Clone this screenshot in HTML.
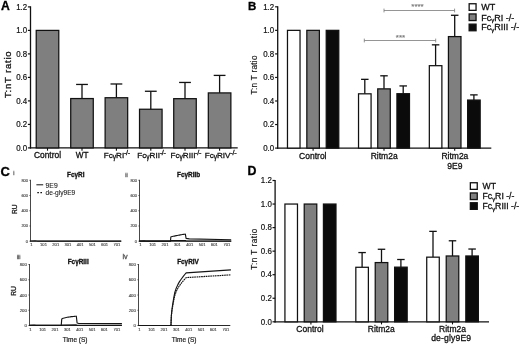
<!DOCTYPE html>
<html><head><meta charset="utf-8"><title>Figure</title>
<style>
html,body{margin:0;padding:0;background:#fff;}
body{width:520px;height:345px;overflow:hidden;font-family:"Liberation Sans",sans-serif;}
svg{display:block;will-change:transform;filter:grayscale(1);}
svg text{font-family:"Liberation Sans",sans-serif;}
</style></head><body>
<svg width="520" height="345" viewBox="0 0 520 345" >
<rect width="520" height="345" fill="#fff"/>
<text x="1" y="9.6" font-size="12.2" text-anchor="start" font-weight="bold" fill="#000" stroke="#000" stroke-width="0.3" >A</text>
<line x1="30.5" y1="6.300000000000001" x2="30.5" y2="148.5" stroke="#111" stroke-width="1.3" />
<line x1="27.9" y1="147.9" x2="30.5" y2="147.9" stroke="#111" stroke-width="1.2" />
<text x="27.2" y="150.60" font-size="9.0" text-anchor="end" font-weight="normal" fill="#111" stroke="#111" stroke-width="0.2" textLength="11.0" lengthAdjust="spacingAndGlyphs">0.0</text>
<line x1="27.9" y1="124.4" x2="30.5" y2="124.4" stroke="#111" stroke-width="1.2" />
<text x="27.2" y="127.10" font-size="9.0" text-anchor="end" font-weight="normal" fill="#111" stroke="#111" stroke-width="0.2" textLength="11.0" lengthAdjust="spacingAndGlyphs">0.2</text>
<line x1="27.9" y1="100.9" x2="30.5" y2="100.9" stroke="#111" stroke-width="1.2" />
<text x="27.2" y="103.60" font-size="9.0" text-anchor="end" font-weight="normal" fill="#111" stroke="#111" stroke-width="0.2" textLength="11.0" lengthAdjust="spacingAndGlyphs">0.4</text>
<line x1="27.9" y1="77.4" x2="30.5" y2="77.4" stroke="#111" stroke-width="1.2" />
<text x="27.2" y="80.10" font-size="9.0" text-anchor="end" font-weight="normal" fill="#111" stroke="#111" stroke-width="0.2" textLength="11.0" lengthAdjust="spacingAndGlyphs">0.6</text>
<line x1="27.9" y1="53.900000000000006" x2="30.5" y2="53.900000000000006" stroke="#111" stroke-width="1.2" />
<text x="27.2" y="56.60" font-size="9.0" text-anchor="end" font-weight="normal" fill="#111" stroke="#111" stroke-width="0.2" textLength="11.0" lengthAdjust="spacingAndGlyphs">0.8</text>
<line x1="27.9" y1="30.400000000000006" x2="30.5" y2="30.400000000000006" stroke="#111" stroke-width="1.2" />
<text x="27.2" y="33.10" font-size="9.0" text-anchor="end" font-weight="normal" fill="#111" stroke="#111" stroke-width="0.2" textLength="11.0" lengthAdjust="spacingAndGlyphs">1.0</text>
<line x1="27.9" y1="6.900000000000006" x2="30.5" y2="6.900000000000006" stroke="#111" stroke-width="1.2" />
<text x="27.2" y="9.60" font-size="9.0" text-anchor="end" font-weight="normal" fill="#111" stroke="#111" stroke-width="0.2" textLength="11.0" lengthAdjust="spacingAndGlyphs">1.2</text>
<line x1="29.9" y1="147.9" x2="237.7" y2="147.9" stroke="#111" stroke-width="1.35" />
<line x1="47.5" y1="147.9" x2="47.5" y2="150.70000000000002" stroke="#111" stroke-width="1.1" />
<line x1="82" y1="147.9" x2="82" y2="150.70000000000002" stroke="#111" stroke-width="1.1" />
<line x1="116.4" y1="147.9" x2="116.4" y2="150.70000000000002" stroke="#111" stroke-width="1.1" />
<line x1="150.8" y1="147.9" x2="150.8" y2="150.70000000000002" stroke="#111" stroke-width="1.1" />
<line x1="185.0" y1="147.9" x2="185.0" y2="150.70000000000002" stroke="#111" stroke-width="1.1" />
<line x1="219.6" y1="147.9" x2="219.6" y2="150.70000000000002" stroke="#111" stroke-width="1.1" />
<text transform="translate(10.5,74.3) rotate(-90)" font-size="9.6" text-anchor="middle" fill="#111" stroke="#111" stroke-width="0.3" letter-spacing="0.75">T:nT ratio</text>
<rect x="36.23" y="30.40" width="22.55" height="117.50" fill="#7f7f7f" stroke="#111" stroke-width="1.25"/>
<line x1="82" y1="84.45" x2="82" y2="98.55000000000001" stroke="#111" stroke-width="1.3" />
<line x1="76.1" y1="84.45" x2="87.9" y2="84.45" stroke="#111" stroke-width="1.3" />
<rect x="70.72" y="98.55" width="22.55" height="49.35" fill="#7f7f7f" stroke="#111" stroke-width="1.25"/>
<line x1="116.4" y1="83.97999999999999" x2="116.4" y2="97.7275" stroke="#111" stroke-width="1.3" />
<line x1="110.5" y1="83.97999999999999" x2="122.30000000000001" y2="83.97999999999999" stroke="#111" stroke-width="1.3" />
<rect x="105.12" y="97.73" width="22.55" height="50.17" fill="#7f7f7f" stroke="#111" stroke-width="1.25"/>
<line x1="150.8" y1="91.265" x2="150.8" y2="109.2425" stroke="#111" stroke-width="1.3" />
<line x1="144.9" y1="91.265" x2="156.70000000000002" y2="91.265" stroke="#111" stroke-width="1.3" />
<rect x="139.53" y="109.24" width="22.55" height="38.66" fill="#7f7f7f" stroke="#111" stroke-width="1.25"/>
<line x1="185.0" y1="82.4525" x2="185.0" y2="98.6675" stroke="#111" stroke-width="1.3" />
<line x1="179.1" y1="82.4525" x2="190.9" y2="82.4525" stroke="#111" stroke-width="1.3" />
<rect x="173.72" y="98.67" width="22.55" height="49.23" fill="#7f7f7f" stroke="#111" stroke-width="1.25"/>
<line x1="219.6" y1="75.4025" x2="219.6" y2="92.91" stroke="#111" stroke-width="1.3" />
<line x1="213.7" y1="75.4025" x2="225.5" y2="75.4025" stroke="#111" stroke-width="1.3" />
<rect x="208.32" y="92.91" width="22.55" height="54.99" fill="#7f7f7f" stroke="#111" stroke-width="1.25"/>
<text x="47.5" y="157.7" font-size="8.4" text-anchor="middle" font-weight="normal" fill="#111" stroke="#111" stroke-width="0.3" >Control</text>
<text x="82.1" y="157.7" font-size="8.2" text-anchor="middle" font-weight="normal" fill="#111" stroke="#111" stroke-width="0.3" >WT</text>
<text x="103.8" y="157.5" font-size="8.1" text-anchor="start" font-weight="normal" fill="#111" stroke="#111" stroke-width="0.3" >Fc<tspan font-size="6.64" dy="1.5">γ</tspan><tspan dy="-1.5">RI</tspan><tspan font-size="7.13" dy="-2.7" dx="-0.3" letter-spacing="-0.2">-/-</tspan></text>
<text x="137.3" y="157.5" font-size="8.1" text-anchor="start" font-weight="normal" fill="#111" stroke="#111" stroke-width="0.3" >Fc<tspan font-size="6.64" dy="1.5">γ</tspan><tspan dy="-1.5">RII</tspan><tspan font-size="7.13" dy="-2.7" dx="-0.3" letter-spacing="-0.2">-/-</tspan></text>
<text x="170.5" y="157.5" font-size="8.1" text-anchor="start" font-weight="normal" fill="#111" stroke="#111" stroke-width="0.3" >Fc<tspan font-size="6.64" dy="1.5">γ</tspan><tspan dy="-1.5">RIII</tspan><tspan font-size="7.13" dy="-2.7" dx="-0.3" letter-spacing="-0.2">-/-</tspan></text>
<text x="204.7" y="157.5" font-size="8.1" text-anchor="start" font-weight="normal" fill="#111" stroke="#111" stroke-width="0.3" >Fc<tspan font-size="6.64" dy="1.5">γ</tspan><tspan dy="-1.5">RIV</tspan><tspan font-size="7.13" dy="-2.7" dx="-0.3" letter-spacing="-0.2">-/-</tspan></text>
<text x="247.9" y="9.5" font-size="11.5" text-anchor="start" font-weight="bold" fill="#000" stroke="#000" stroke-width="0.3" >B</text>
<line x1="277.7" y1="6.2" x2="277.7" y2="148.7" stroke="#111" stroke-width="1.3" />
<line x1="275.09999999999997" y1="148.1" x2="277.7" y2="148.1" stroke="#111" stroke-width="1.2" />
<text x="274.2" y="150.80" font-size="9.0" text-anchor="end" font-weight="normal" fill="#111" stroke="#111" stroke-width="0.2" textLength="11.0" lengthAdjust="spacingAndGlyphs">0.0</text>
<line x1="275.09999999999997" y1="124.55" x2="277.7" y2="124.55" stroke="#111" stroke-width="1.2" />
<text x="274.2" y="127.25" font-size="9.0" text-anchor="end" font-weight="normal" fill="#111" stroke="#111" stroke-width="0.2" textLength="11.0" lengthAdjust="spacingAndGlyphs">0.2</text>
<line x1="275.09999999999997" y1="101.0" x2="277.7" y2="101.0" stroke="#111" stroke-width="1.2" />
<text x="274.2" y="103.70" font-size="9.0" text-anchor="end" font-weight="normal" fill="#111" stroke="#111" stroke-width="0.2" textLength="11.0" lengthAdjust="spacingAndGlyphs">0.4</text>
<line x1="275.09999999999997" y1="77.45" x2="277.7" y2="77.45" stroke="#111" stroke-width="1.2" />
<text x="274.2" y="80.15" font-size="9.0" text-anchor="end" font-weight="normal" fill="#111" stroke="#111" stroke-width="0.2" textLength="11.0" lengthAdjust="spacingAndGlyphs">0.6</text>
<line x1="275.09999999999997" y1="53.900000000000006" x2="277.7" y2="53.900000000000006" stroke="#111" stroke-width="1.2" />
<text x="274.2" y="56.60" font-size="9.0" text-anchor="end" font-weight="normal" fill="#111" stroke="#111" stroke-width="0.2" textLength="11.0" lengthAdjust="spacingAndGlyphs">0.8</text>
<line x1="275.09999999999997" y1="30.35000000000001" x2="277.7" y2="30.35000000000001" stroke="#111" stroke-width="1.2" />
<text x="274.2" y="33.05" font-size="9.0" text-anchor="end" font-weight="normal" fill="#111" stroke="#111" stroke-width="0.2" textLength="11.0" lengthAdjust="spacingAndGlyphs">1.0</text>
<line x1="275.09999999999997" y1="6.800000000000011" x2="277.7" y2="6.800000000000011" stroke="#111" stroke-width="1.2" />
<text x="274.2" y="9.50" font-size="9.0" text-anchor="end" font-weight="normal" fill="#111" stroke="#111" stroke-width="0.2" textLength="11.0" lengthAdjust="spacingAndGlyphs">1.2</text>
<line x1="277.1" y1="148.1" x2="491.3" y2="148.1" stroke="#111" stroke-width="1.3" />
<line x1="313.1" y1="148.1" x2="313.1" y2="150.7" stroke="#111" stroke-width="1.1" />
<line x1="384.0" y1="148.1" x2="384.0" y2="150.7" stroke="#111" stroke-width="1.1" />
<line x1="454.7" y1="148.1" x2="454.7" y2="150.7" stroke="#111" stroke-width="1.1" />
<text transform="translate(257.0,74.8) rotate(-90)" font-size="8.2" text-anchor="middle" fill="#111" stroke="#111" stroke-width="0.15" letter-spacing="0.28">T:n T ratio</text>
<rect x="287.48" y="30.35" width="12.55" height="117.75" fill="#fff" stroke="#111" stroke-width="1.25"/>
<rect x="306.83" y="30.35" width="12.55" height="117.75" fill="#7f7f7f" stroke="#111" stroke-width="1.25"/>
<rect x="326.23" y="30.35" width="12.55" height="117.75" fill="#0b0b0b" stroke="#111" stroke-width="1.25"/>
<line x1="364.8" y1="79.334" x2="364.8" y2="93.81725" stroke="#111" stroke-width="1.3" />
<line x1="361.05" y1="79.334" x2="368.55" y2="79.334" stroke="#111" stroke-width="1.3" />
<rect x="358.53" y="93.82" width="12.55" height="54.28" fill="#fff" stroke="#111" stroke-width="1.25"/>
<line x1="384.0" y1="75.8015" x2="384.0" y2="88.87174999999999" stroke="#111" stroke-width="1.3" />
<line x1="380.25" y1="75.8015" x2="387.75" y2="75.8015" stroke="#111" stroke-width="1.3" />
<rect x="377.73" y="88.87" width="12.55" height="59.23" fill="#7f7f7f" stroke="#111" stroke-width="1.25"/>
<line x1="403.2" y1="85.928" x2="403.2" y2="93.6995" stroke="#111" stroke-width="1.3" />
<line x1="399.45" y1="85.928" x2="406.95" y2="85.928" stroke="#111" stroke-width="1.3" />
<rect x="396.93" y="93.70" width="12.55" height="54.40" fill="#0b0b0b" stroke="#111" stroke-width="1.25"/>
<line x1="435.6" y1="44.83324999999999" x2="435.6" y2="65.67500000000001" stroke="#111" stroke-width="1.3" />
<line x1="431.85" y1="44.83324999999999" x2="439.35" y2="44.83324999999999" stroke="#111" stroke-width="1.3" />
<rect x="429.33" y="65.68" width="12.55" height="82.42" fill="#fff" stroke="#111" stroke-width="1.25"/>
<line x1="454.7" y1="15.27800000000002" x2="454.7" y2="36.59075" stroke="#111" stroke-width="1.3" />
<line x1="450.95" y1="15.27800000000002" x2="458.45" y2="15.27800000000002" stroke="#111" stroke-width="1.3" />
<rect x="448.43" y="36.59" width="12.55" height="111.51" fill="#7f7f7f" stroke="#111" stroke-width="1.25"/>
<line x1="473.9" y1="94.877" x2="473.9" y2="100.05799999999999" stroke="#111" stroke-width="1.3" />
<line x1="470.15" y1="94.877" x2="477.65" y2="94.877" stroke="#111" stroke-width="1.3" />
<rect x="467.62" y="100.06" width="12.55" height="48.04" fill="#0b0b0b" stroke="#111" stroke-width="1.25"/>
<text x="312.8" y="158.7" font-size="8.5" text-anchor="middle" font-weight="normal" fill="#111" stroke="#111" stroke-width="0.3" >Control</text>
<text x="384.2" y="158.7" font-size="8.5" text-anchor="middle" font-weight="normal" fill="#111" stroke="#111" stroke-width="0.3" >Ritm2a</text>
<text x="454.9" y="158.7" font-size="8.5" text-anchor="middle" font-weight="normal" fill="#111" stroke="#111" stroke-width="0.3" >Ritm2a</text>
<text x="454.8" y="169.2" font-size="8.5" text-anchor="middle" font-weight="normal" fill="#111" stroke="#111" stroke-width="0.3" >9E9</text>
<line x1="384" y1="10.5" x2="454.6" y2="10.5" stroke="#7a7a7a" stroke-width="0.8" />
<line x1="384" y1="8.6" x2="384" y2="12.4" stroke="#7a7a7a" stroke-width="0.8" />
<line x1="454.6" y1="8.6" x2="454.6" y2="12.4" stroke="#7a7a7a" stroke-width="0.8" />
<text x="417.5" y="9.3" font-size="8" text-anchor="middle" font-weight="normal" fill="#7a7a7a" stroke="#7a7a7a" stroke-width="0.15" >****</text>
<line x1="364.3" y1="40.5" x2="435.7" y2="40.5" stroke="#7a7a7a" stroke-width="0.8" />
<line x1="364.3" y1="38.6" x2="364.3" y2="42.4" stroke="#7a7a7a" stroke-width="0.8" />
<line x1="435.7" y1="38.6" x2="435.7" y2="42.4" stroke="#7a7a7a" stroke-width="0.8" />
<text x="400.5" y="39.6" font-size="8" text-anchor="middle" font-weight="normal" fill="#7a7a7a" stroke="#7a7a7a" stroke-width="0.15" >***</text>
<rect x="469.15" y="3.75" width="6.8999999999999995" height="6.6" fill="#fff" stroke="#111" stroke-width="1.3"/>
<rect x="469.15" y="13.950000000000001" width="6.8999999999999995" height="6.6" fill="#7f7f7f" stroke="#111" stroke-width="1.3"/>
<rect x="469.15" y="24.15" width="6.8999999999999995" height="6.6" fill="#0b0b0b" stroke="#111" stroke-width="1.3"/>
<text x="481.2" y="10.2" font-size="9" text-anchor="start" font-weight="normal" fill="#111" stroke="#111" stroke-width="0.3" >WT</text>
<text x="481.2" y="20.5" font-size="9" text-anchor="start" font-weight="normal" fill="#111" stroke="#111" stroke-width="0.3" >Fc<tspan font-size="6.12" dy="1.7">γ</tspan><tspan dy="-1.7">RI -/-</tspan></text>
<text x="481.2" y="30.2" font-size="9" text-anchor="start" font-weight="normal" fill="#111" stroke="#111" stroke-width="0.3" >Fc<tspan font-size="6.12" dy="1.7">γ</tspan><tspan dy="-1.7">RIII -/-</tspan></text>
<text x="247.4" y="174.9" font-size="12.4" text-anchor="start" font-weight="bold" fill="#000" stroke="#000" stroke-width="0.3" >D</text>
<line x1="275.1" y1="179.9" x2="275.1" y2="322.40000000000003" stroke="#111" stroke-width="1.3" />
<line x1="272.5" y1="321.8" x2="275.1" y2="321.8" stroke="#111" stroke-width="1.2" />
<text x="271.8" y="324.50" font-size="9.0" text-anchor="end" font-weight="normal" fill="#111" stroke="#111" stroke-width="0.2" textLength="11.0" lengthAdjust="spacingAndGlyphs">0.0</text>
<line x1="272.5" y1="298.25" x2="275.1" y2="298.25" stroke="#111" stroke-width="1.2" />
<text x="271.8" y="300.95" font-size="9.0" text-anchor="end" font-weight="normal" fill="#111" stroke="#111" stroke-width="0.2" textLength="11.0" lengthAdjust="spacingAndGlyphs">0.2</text>
<line x1="272.5" y1="274.7" x2="275.1" y2="274.7" stroke="#111" stroke-width="1.2" />
<text x="271.8" y="277.40" font-size="9.0" text-anchor="end" font-weight="normal" fill="#111" stroke="#111" stroke-width="0.2" textLength="11.0" lengthAdjust="spacingAndGlyphs">0.4</text>
<line x1="272.5" y1="251.15" x2="275.1" y2="251.15" stroke="#111" stroke-width="1.2" />
<text x="271.8" y="253.85" font-size="9.0" text-anchor="end" font-weight="normal" fill="#111" stroke="#111" stroke-width="0.2" textLength="11.0" lengthAdjust="spacingAndGlyphs">0.6</text>
<line x1="272.5" y1="227.60000000000002" x2="275.1" y2="227.60000000000002" stroke="#111" stroke-width="1.2" />
<text x="271.8" y="230.30" font-size="9.0" text-anchor="end" font-weight="normal" fill="#111" stroke="#111" stroke-width="0.2" textLength="11.0" lengthAdjust="spacingAndGlyphs">0.8</text>
<line x1="272.5" y1="204.05" x2="275.1" y2="204.05" stroke="#111" stroke-width="1.2" />
<text x="271.8" y="206.75" font-size="9.0" text-anchor="end" font-weight="normal" fill="#111" stroke="#111" stroke-width="0.2" textLength="11.0" lengthAdjust="spacingAndGlyphs">1.0</text>
<line x1="272.5" y1="180.5" x2="275.1" y2="180.5" stroke="#111" stroke-width="1.2" />
<text x="271.8" y="183.20" font-size="9.0" text-anchor="end" font-weight="normal" fill="#111" stroke="#111" stroke-width="0.2" textLength="11.0" lengthAdjust="spacingAndGlyphs">1.2</text>
<line x1="274.5" y1="321.8" x2="489" y2="321.8" stroke="#111" stroke-width="1.3" />
<line x1="310.9" y1="321.8" x2="310.9" y2="324.40000000000003" stroke="#111" stroke-width="1.1" />
<line x1="381.5" y1="321.8" x2="381.5" y2="324.40000000000003" stroke="#111" stroke-width="1.1" />
<line x1="452.5" y1="321.8" x2="452.5" y2="324.40000000000003" stroke="#111" stroke-width="1.1" />
<text transform="translate(256.5,248.9) rotate(-90)" font-size="8.2" text-anchor="middle" fill="#111" stroke="#111" stroke-width="0.15" letter-spacing="0.5">T:n T ratio</text>
<rect x="284.93" y="204.05" width="12.55" height="117.75" fill="#fff" stroke="#111" stroke-width="1.25"/>
<rect x="304.23" y="204.05" width="12.55" height="117.75" fill="#7f7f7f" stroke="#111" stroke-width="1.25"/>
<rect x="323.43" y="204.05" width="12.55" height="117.75" fill="#0b0b0b" stroke="#111" stroke-width="1.25"/>
<line x1="362.1" y1="252.563" x2="362.1" y2="267.28175" stroke="#111" stroke-width="1.3" />
<line x1="358.35" y1="252.563" x2="365.85" y2="252.563" stroke="#111" stroke-width="1.3" />
<rect x="355.83" y="267.28" width="12.55" height="54.52" fill="#fff" stroke="#111" stroke-width="1.25"/>
<line x1="381.5" y1="249.26600000000002" x2="381.5" y2="262.57175" stroke="#111" stroke-width="1.3" />
<line x1="377.75" y1="249.26600000000002" x2="385.25" y2="249.26600000000002" stroke="#111" stroke-width="1.3" />
<rect x="375.23" y="262.57" width="12.55" height="59.23" fill="#7f7f7f" stroke="#111" stroke-width="1.25"/>
<line x1="400.9" y1="259.51025" x2="400.9" y2="267.164" stroke="#111" stroke-width="1.3" />
<line x1="397.15" y1="259.51025" x2="404.65" y2="259.51025" stroke="#111" stroke-width="1.3" />
<rect x="394.62" y="267.16" width="12.55" height="54.64" fill="#0b0b0b" stroke="#111" stroke-width="1.25"/>
<line x1="433.0" y1="231.368" x2="433.0" y2="257.15525" stroke="#111" stroke-width="1.3" />
<line x1="429.25" y1="231.368" x2="436.75" y2="231.368" stroke="#111" stroke-width="1.3" />
<rect x="426.73" y="257.16" width="12.55" height="64.64" fill="#fff" stroke="#111" stroke-width="1.25"/>
<line x1="452.5" y1="240.788" x2="452.5" y2="255.97775000000001" stroke="#111" stroke-width="1.3" />
<line x1="448.75" y1="240.788" x2="456.25" y2="240.788" stroke="#111" stroke-width="1.3" />
<rect x="446.23" y="255.98" width="12.55" height="65.82" fill="#7f7f7f" stroke="#111" stroke-width="1.25"/>
<line x1="472.1" y1="249.03050000000002" x2="472.1" y2="255.97775000000001" stroke="#111" stroke-width="1.3" />
<line x1="468.35" y1="249.03050000000002" x2="475.85" y2="249.03050000000002" stroke="#111" stroke-width="1.3" />
<rect x="465.83" y="255.98" width="12.55" height="65.82" fill="#0b0b0b" stroke="#111" stroke-width="1.25"/>
<text x="310" y="332.2" font-size="8.5" text-anchor="middle" font-weight="normal" fill="#111" stroke="#111" stroke-width="0.3" >Control</text>
<text x="381.3" y="332.2" font-size="8.5" text-anchor="middle" font-weight="normal" fill="#111" stroke="#111" stroke-width="0.3" >Ritm2a</text>
<text x="452.5" y="332.2" font-size="8.5" text-anchor="middle" font-weight="normal" fill="#111" stroke="#111" stroke-width="0.3" >Ritm2a</text>
<text x="451.2" y="341.3" font-size="8.6" text-anchor="middle" font-weight="normal" fill="#111" stroke="#111" stroke-width="0.3" letter-spacing="0.15">de-gly9E9</text>
<rect x="470.34999999999997" y="182.75" width="6.8999999999999995" height="6.6" fill="#fff" stroke="#111" stroke-width="1.3"/>
<rect x="470.34999999999997" y="192.95000000000002" width="6.8999999999999995" height="6.6" fill="#7f7f7f" stroke="#111" stroke-width="1.3"/>
<rect x="470.34999999999997" y="202.75" width="6.8999999999999995" height="6.6" fill="#0b0b0b" stroke="#111" stroke-width="1.3"/>
<text x="482.5" y="189.4" font-size="8.7" text-anchor="start" font-weight="normal" fill="#111" stroke="#111" stroke-width="0.3" >WT</text>
<text x="482.5" y="199.1" font-size="8.7" text-anchor="start" font-weight="normal" fill="#111" stroke="#111" stroke-width="0.3" >Fc<tspan font-size="5.92" dy="1.7">γ</tspan><tspan dy="-1.7">RI -/-</tspan></text>
<text x="482.5" y="208.8" font-size="8.7" text-anchor="start" font-weight="normal" fill="#111" stroke="#111" stroke-width="0.3" >Fc<tspan font-size="5.92" dy="1.7">γ</tspan><tspan dy="-1.7">RIII -/-</tspan></text>
<text x="0.5" y="176.4" font-size="13" text-anchor="start" font-weight="bold" fill="#000" stroke="#000" stroke-width="0.3" >C</text>
<line x1="30.5" y1="179.8" x2="30.5" y2="241.7" stroke="#333" stroke-width="0.9" />
<line x1="30.0" y1="241.2" x2="121.3" y2="241.2" stroke="#1c1c1c" stroke-width="0.95" />
<line x1="29.3" y1="241.2" x2="30.5" y2="241.2" stroke="#222" stroke-width="0.6" />
<text x="27.8" y="242.57" font-size="3.8" text-anchor="end" font-weight="normal" fill="#404040" stroke="#404040" stroke-width="0.12" >0</text>
<line x1="29.3" y1="225.975" x2="30.5" y2="225.975" stroke="#222" stroke-width="0.6" />
<text x="27.8" y="227.34" font-size="3.8" text-anchor="end" font-weight="normal" fill="#404040" stroke="#404040" stroke-width="0.12" >200</text>
<line x1="29.3" y1="210.75" x2="30.5" y2="210.75" stroke="#222" stroke-width="0.6" />
<text x="27.8" y="212.12" font-size="3.8" text-anchor="end" font-weight="normal" fill="#404040" stroke="#404040" stroke-width="0.12" >400</text>
<line x1="29.3" y1="195.525" x2="30.5" y2="195.525" stroke="#222" stroke-width="0.6" />
<text x="27.8" y="196.89" font-size="3.8" text-anchor="end" font-weight="normal" fill="#404040" stroke="#404040" stroke-width="0.12" >600</text>
<line x1="29.3" y1="180.3" x2="30.5" y2="180.3" stroke="#222" stroke-width="0.6" />
<text x="27.8" y="181.67" font-size="3.8" text-anchor="end" font-weight="normal" fill="#404040" stroke="#404040" stroke-width="0.12" >800</text>
<text x="31.30" y="245.6" font-size="4.1" text-anchor="middle" font-weight="normal" fill="#404040" stroke="#404040" stroke-width="0.12" >1</text>
<text x="43.53" y="245.6" font-size="4.1" text-anchor="middle" font-weight="normal" fill="#404040" stroke="#404040" stroke-width="0.12" >101</text>
<text x="55.76" y="245.6" font-size="4.1" text-anchor="middle" font-weight="normal" fill="#404040" stroke="#404040" stroke-width="0.12" >201</text>
<text x="67.99" y="245.6" font-size="4.1" text-anchor="middle" font-weight="normal" fill="#404040" stroke="#404040" stroke-width="0.12" >301</text>
<text x="80.22" y="245.6" font-size="4.1" text-anchor="middle" font-weight="normal" fill="#404040" stroke="#404040" stroke-width="0.12" >401</text>
<text x="92.45" y="245.6" font-size="4.1" text-anchor="middle" font-weight="normal" fill="#404040" stroke="#404040" stroke-width="0.12" >501</text>
<text x="104.68" y="245.6" font-size="4.1" text-anchor="middle" font-weight="normal" fill="#404040" stroke="#404040" stroke-width="0.12" >601</text>
<text x="116.91" y="245.6" font-size="4.1" text-anchor="middle" font-weight="normal" fill="#404040" stroke="#404040" stroke-width="0.12" >701</text>
<text x="75.8" y="177.0" font-size="6.4" text-anchor="middle" font-weight="bold" fill="#111" stroke="#111" stroke-width="0.3" >FcγRI</text>
<text x="13.2" y="174.8" font-size="5.5" text-anchor="start" font-weight="normal" fill="#555" stroke="#555" stroke-width="0.3" >i</text>
<text transform="translate(16.5,209.15) rotate(-90)" font-size="6.6" text-anchor="middle" fill="#222" stroke="#222" stroke-width="0.3" >RU</text>
<path d="M30.50 241.05 L35.07 240.82 L37.17 241.05 L121.18 241.05" fill="none" stroke="#151515" stroke-width="1.15" stroke-linejoin="round" />
<line x1="139.5" y1="179.8" x2="139.5" y2="241.7" stroke="#333" stroke-width="0.9" />
<line x1="139.0" y1="241.2" x2="231.3" y2="241.2" stroke="#1c1c1c" stroke-width="0.95" />
<line x1="138.3" y1="241.2" x2="139.5" y2="241.2" stroke="#222" stroke-width="0.6" />
<text x="136.8" y="242.57" font-size="3.8" text-anchor="end" font-weight="normal" fill="#404040" stroke="#404040" stroke-width="0.12" >0</text>
<line x1="138.3" y1="225.975" x2="139.5" y2="225.975" stroke="#222" stroke-width="0.6" />
<text x="136.8" y="227.34" font-size="3.8" text-anchor="end" font-weight="normal" fill="#404040" stroke="#404040" stroke-width="0.12" >200</text>
<line x1="138.3" y1="210.75" x2="139.5" y2="210.75" stroke="#222" stroke-width="0.6" />
<text x="136.8" y="212.12" font-size="3.8" text-anchor="end" font-weight="normal" fill="#404040" stroke="#404040" stroke-width="0.12" >400</text>
<line x1="138.3" y1="195.525" x2="139.5" y2="195.525" stroke="#222" stroke-width="0.6" />
<text x="136.8" y="196.89" font-size="3.8" text-anchor="end" font-weight="normal" fill="#404040" stroke="#404040" stroke-width="0.12" >600</text>
<line x1="138.3" y1="180.3" x2="139.5" y2="180.3" stroke="#222" stroke-width="0.6" />
<text x="136.8" y="181.67" font-size="3.8" text-anchor="end" font-weight="normal" fill="#404040" stroke="#404040" stroke-width="0.12" >800</text>
<text x="140.30" y="245.6" font-size="4.1" text-anchor="middle" font-weight="normal" fill="#404040" stroke="#404040" stroke-width="0.12" >1</text>
<text x="152.66" y="245.6" font-size="4.1" text-anchor="middle" font-weight="normal" fill="#404040" stroke="#404040" stroke-width="0.12" >101</text>
<text x="165.03" y="245.6" font-size="4.1" text-anchor="middle" font-weight="normal" fill="#404040" stroke="#404040" stroke-width="0.12" >201</text>
<text x="177.39" y="245.6" font-size="4.1" text-anchor="middle" font-weight="normal" fill="#404040" stroke="#404040" stroke-width="0.12" >301</text>
<text x="189.76" y="245.6" font-size="4.1" text-anchor="middle" font-weight="normal" fill="#404040" stroke="#404040" stroke-width="0.12" >401</text>
<text x="202.12" y="245.6" font-size="4.1" text-anchor="middle" font-weight="normal" fill="#404040" stroke="#404040" stroke-width="0.12" >501</text>
<text x="214.49" y="245.6" font-size="4.1" text-anchor="middle" font-weight="normal" fill="#404040" stroke="#404040" stroke-width="0.12" >601</text>
<text x="226.85" y="245.6" font-size="4.1" text-anchor="middle" font-weight="normal" fill="#404040" stroke="#404040" stroke-width="0.12" >701</text>
<text x="188.6" y="177.0" font-size="6.4" text-anchor="middle" font-weight="bold" fill="#111" stroke="#111" stroke-width="0.3" >FcγRIIb</text>
<text x="125.2" y="177.0" font-size="5.5" text-anchor="start" font-weight="normal" fill="#555" stroke="#555" stroke-width="0.3" >ii</text>
<path d="M139.50 241.05 L144.12 240.82 L146.24 241.05 L170.47 241.05 L170.85 237.01 L171.22 236.78 L172.23 236.55 L173.24 236.31 L174.25 236.09 L175.26 235.87 L176.26 235.66 L177.27 235.46 L178.28 235.26 L179.29 235.07 L180.30 234.88 L181.31 234.71 L182.31 234.53 L183.32 234.36 L184.33 234.20 L185.34 234.04 L186.09 238.31 L189.33 238.84 L231.18 239.75" fill="none" stroke="#151515" stroke-width="1.15" stroke-linejoin="round" />
<path d="M139.50 241.12 L170.47 241.12 L171.10 240.67 L185.34 240.51 L186.09 240.97 L231.18 241.05" fill="none" stroke="#151515" stroke-width="1.15" stroke-linejoin="round" />
<line x1="29.5" y1="264.0" x2="29.5" y2="326.0" stroke="#333" stroke-width="0.9" />
<line x1="29.0" y1="325.5" x2="121.3" y2="325.5" stroke="#1c1c1c" stroke-width="0.95" />
<line x1="28.3" y1="325.5" x2="29.5" y2="325.5" stroke="#222" stroke-width="0.6" />
<text x="26.8" y="327.05" font-size="4.3" text-anchor="end" font-weight="normal" fill="#404040" stroke="#404040" stroke-width="0.12" >0</text>
<line x1="28.3" y1="310.25" x2="29.5" y2="310.25" stroke="#222" stroke-width="0.6" />
<text x="26.8" y="311.80" font-size="4.3" text-anchor="end" font-weight="normal" fill="#404040" stroke="#404040" stroke-width="0.12" >200</text>
<line x1="28.3" y1="295.0" x2="29.5" y2="295.0" stroke="#222" stroke-width="0.6" />
<text x="26.8" y="296.55" font-size="4.3" text-anchor="end" font-weight="normal" fill="#404040" stroke="#404040" stroke-width="0.12" >400</text>
<line x1="28.3" y1="279.75" x2="29.5" y2="279.75" stroke="#222" stroke-width="0.6" />
<text x="26.8" y="281.30" font-size="4.3" text-anchor="end" font-weight="normal" fill="#404040" stroke="#404040" stroke-width="0.12" >600</text>
<line x1="28.3" y1="264.5" x2="29.5" y2="264.5" stroke="#222" stroke-width="0.6" />
<text x="26.8" y="266.05" font-size="4.3" text-anchor="end" font-weight="normal" fill="#404040" stroke="#404040" stroke-width="0.12" >800</text>
<text x="30.30" y="331.1" font-size="4.1" text-anchor="middle" font-weight="normal" fill="#404040" stroke="#404040" stroke-width="0.12" >1</text>
<text x="42.66" y="331.1" font-size="4.1" text-anchor="middle" font-weight="normal" fill="#404040" stroke="#404040" stroke-width="0.12" >101</text>
<text x="55.03" y="331.1" font-size="4.1" text-anchor="middle" font-weight="normal" fill="#404040" stroke="#404040" stroke-width="0.12" >201</text>
<text x="67.39" y="331.1" font-size="4.1" text-anchor="middle" font-weight="normal" fill="#404040" stroke="#404040" stroke-width="0.12" >301</text>
<text x="79.76" y="331.1" font-size="4.1" text-anchor="middle" font-weight="normal" fill="#404040" stroke="#404040" stroke-width="0.12" >401</text>
<text x="92.12" y="331.1" font-size="4.1" text-anchor="middle" font-weight="normal" fill="#404040" stroke="#404040" stroke-width="0.12" >501</text>
<text x="104.49" y="331.1" font-size="4.1" text-anchor="middle" font-weight="normal" fill="#404040" stroke="#404040" stroke-width="0.12" >601</text>
<text x="116.85" y="331.1" font-size="4.1" text-anchor="middle" font-weight="normal" fill="#404040" stroke="#404040" stroke-width="0.12" >701</text>
<text x="78.2" y="264.4" font-size="6.4" text-anchor="middle" font-weight="bold" fill="#111" stroke="#111" stroke-width="0.3" >FcγRIII</text>
<text x="16.8" y="258.9" font-size="5.5" text-anchor="start" font-weight="normal" fill="#555" stroke="#555" stroke-width="0.3" >iii</text>
<text transform="translate(15.5,291.0) rotate(-90)" font-size="6.6" text-anchor="middle" fill="#222" stroke="#222" stroke-width="0.3" >RU</text>
<text x="75.2" y="341.6" font-size="6.5" text-anchor="middle" font-weight="normal" fill="#222" stroke="#222" stroke-width="0.2" >Time (S)</text>
<path d="M29.50 325.35 L34.12 325.12 L36.24 325.35 L61.22 325.35 L61.72 319.40 L62.22 318.49 L63.23 318.20 L64.24 317.94 L65.25 317.71 L66.26 317.50 L67.26 317.30 L68.27 317.13 L69.28 316.97 L70.29 316.82 L71.30 316.69 L72.30 316.57 L73.31 316.47 L74.32 316.37 L75.33 316.28 L76.34 316.20 L77.09 323.06 L78.83 323.52 L121.92 323.67" fill="none" stroke="#151515" stroke-width="1.15" stroke-linejoin="round" />
<path d="M29.50 325.42 L61.22 325.42 L61.85 324.97 L76.34 324.89 L77.09 325.27 L121.92 325.35" fill="none" stroke="#151515" stroke-width="1.15" stroke-linejoin="round" />
<line x1="138.5" y1="264.0" x2="138.5" y2="326.0" stroke="#333" stroke-width="0.9" />
<line x1="138.0" y1="325.5" x2="230.3" y2="325.5" stroke="#1c1c1c" stroke-width="0.95" />
<line x1="137.3" y1="325.5" x2="138.5" y2="325.5" stroke="#222" stroke-width="0.6" />
<text x="135.8" y="327.05" font-size="4.3" text-anchor="end" font-weight="normal" fill="#404040" stroke="#404040" stroke-width="0.12" >0</text>
<line x1="137.3" y1="310.25" x2="138.5" y2="310.25" stroke="#222" stroke-width="0.6" />
<text x="135.8" y="311.80" font-size="4.3" text-anchor="end" font-weight="normal" fill="#404040" stroke="#404040" stroke-width="0.12" >200</text>
<line x1="137.3" y1="295.0" x2="138.5" y2="295.0" stroke="#222" stroke-width="0.6" />
<text x="135.8" y="296.55" font-size="4.3" text-anchor="end" font-weight="normal" fill="#404040" stroke="#404040" stroke-width="0.12" >400</text>
<line x1="137.3" y1="279.75" x2="138.5" y2="279.75" stroke="#222" stroke-width="0.6" />
<text x="135.8" y="281.30" font-size="4.3" text-anchor="end" font-weight="normal" fill="#404040" stroke="#404040" stroke-width="0.12" >600</text>
<line x1="137.3" y1="264.5" x2="138.5" y2="264.5" stroke="#222" stroke-width="0.6" />
<text x="135.8" y="266.05" font-size="4.3" text-anchor="end" font-weight="normal" fill="#404040" stroke="#404040" stroke-width="0.12" >800</text>
<text x="139.30" y="331.1" font-size="4.1" text-anchor="middle" font-weight="normal" fill="#404040" stroke="#404040" stroke-width="0.12" >1</text>
<text x="151.66" y="331.1" font-size="4.1" text-anchor="middle" font-weight="normal" fill="#404040" stroke="#404040" stroke-width="0.12" >101</text>
<text x="164.03" y="331.1" font-size="4.1" text-anchor="middle" font-weight="normal" fill="#404040" stroke="#404040" stroke-width="0.12" >201</text>
<text x="176.39" y="331.1" font-size="4.1" text-anchor="middle" font-weight="normal" fill="#404040" stroke="#404040" stroke-width="0.12" >301</text>
<text x="188.76" y="331.1" font-size="4.1" text-anchor="middle" font-weight="normal" fill="#404040" stroke="#404040" stroke-width="0.12" >401</text>
<text x="201.12" y="331.1" font-size="4.1" text-anchor="middle" font-weight="normal" fill="#404040" stroke="#404040" stroke-width="0.12" >501</text>
<text x="213.49" y="331.1" font-size="4.1" text-anchor="middle" font-weight="normal" fill="#404040" stroke="#404040" stroke-width="0.12" >601</text>
<text x="225.85" y="331.1" font-size="4.1" text-anchor="middle" font-weight="normal" fill="#404040" stroke="#404040" stroke-width="0.12" >701</text>
<text x="188.0" y="264.4" font-size="6.4" text-anchor="middle" font-weight="bold" fill="#111" stroke="#111" stroke-width="0.3" >FcγRIV</text>
<text x="122.4" y="259.4" font-size="7.2" text-anchor="start" font-weight="normal" fill="#555" stroke="#555" stroke-width="0.3" >iv</text>
<text x="184.20000000000002" y="341.6" font-size="6.5" text-anchor="middle" font-weight="normal" fill="#222" stroke="#222" stroke-width="0.2" >Time (S)</text>
<path d="M138.50 325.46 L170.97 325.46 L170.97 325.50 L171.12 320.93 L171.35 315.59 L171.85 310.25 L172.72 304.07 L173.72 298.05 L174.72 292.79 L176.22 288.14 L177.84 284.63 L179.34 281.88 L180.97 279.52 L183.46 276.09 L185.59 273.50 L186.21 272.89 L230.92 269.84" fill="none" stroke="#151515" stroke-width="1.15" stroke-linejoin="round" />
<path d="M170.97 325.50 L171.12 321.34 L171.35 316.48 L171.85 311.62 L172.72 306.00 L173.72 300.52 L174.72 295.73 L176.22 291.50 L177.84 288.31 L179.34 285.81 L180.97 283.66 L183.46 280.54 L185.59 278.18 L186.21 277.62 L230.92 274.85" fill="none" stroke="#151515" stroke-width="1.15" stroke-linejoin="round" stroke-dasharray="1.7 0.6"/>
<line x1="36.4" y1="184.8" x2="43.2" y2="184.8" stroke="#111" stroke-width="1.0" />
<line x1="37.3" y1="192.6" x2="43" y2="192.6" stroke="#111" stroke-width="1.4" stroke-dasharray="1.6 1.5"/>
<text x="45.6" y="187.5" font-size="6.8" text-anchor="start" font-weight="normal" fill="#222" stroke="#222" stroke-width="0.1" >9E9</text>
<text x="45.6" y="194.7" font-size="6.6" text-anchor="start" font-weight="normal" fill="#222" stroke="#222" stroke-width="0.1" >de-gly9E9</text>
</svg>
</body></html>
